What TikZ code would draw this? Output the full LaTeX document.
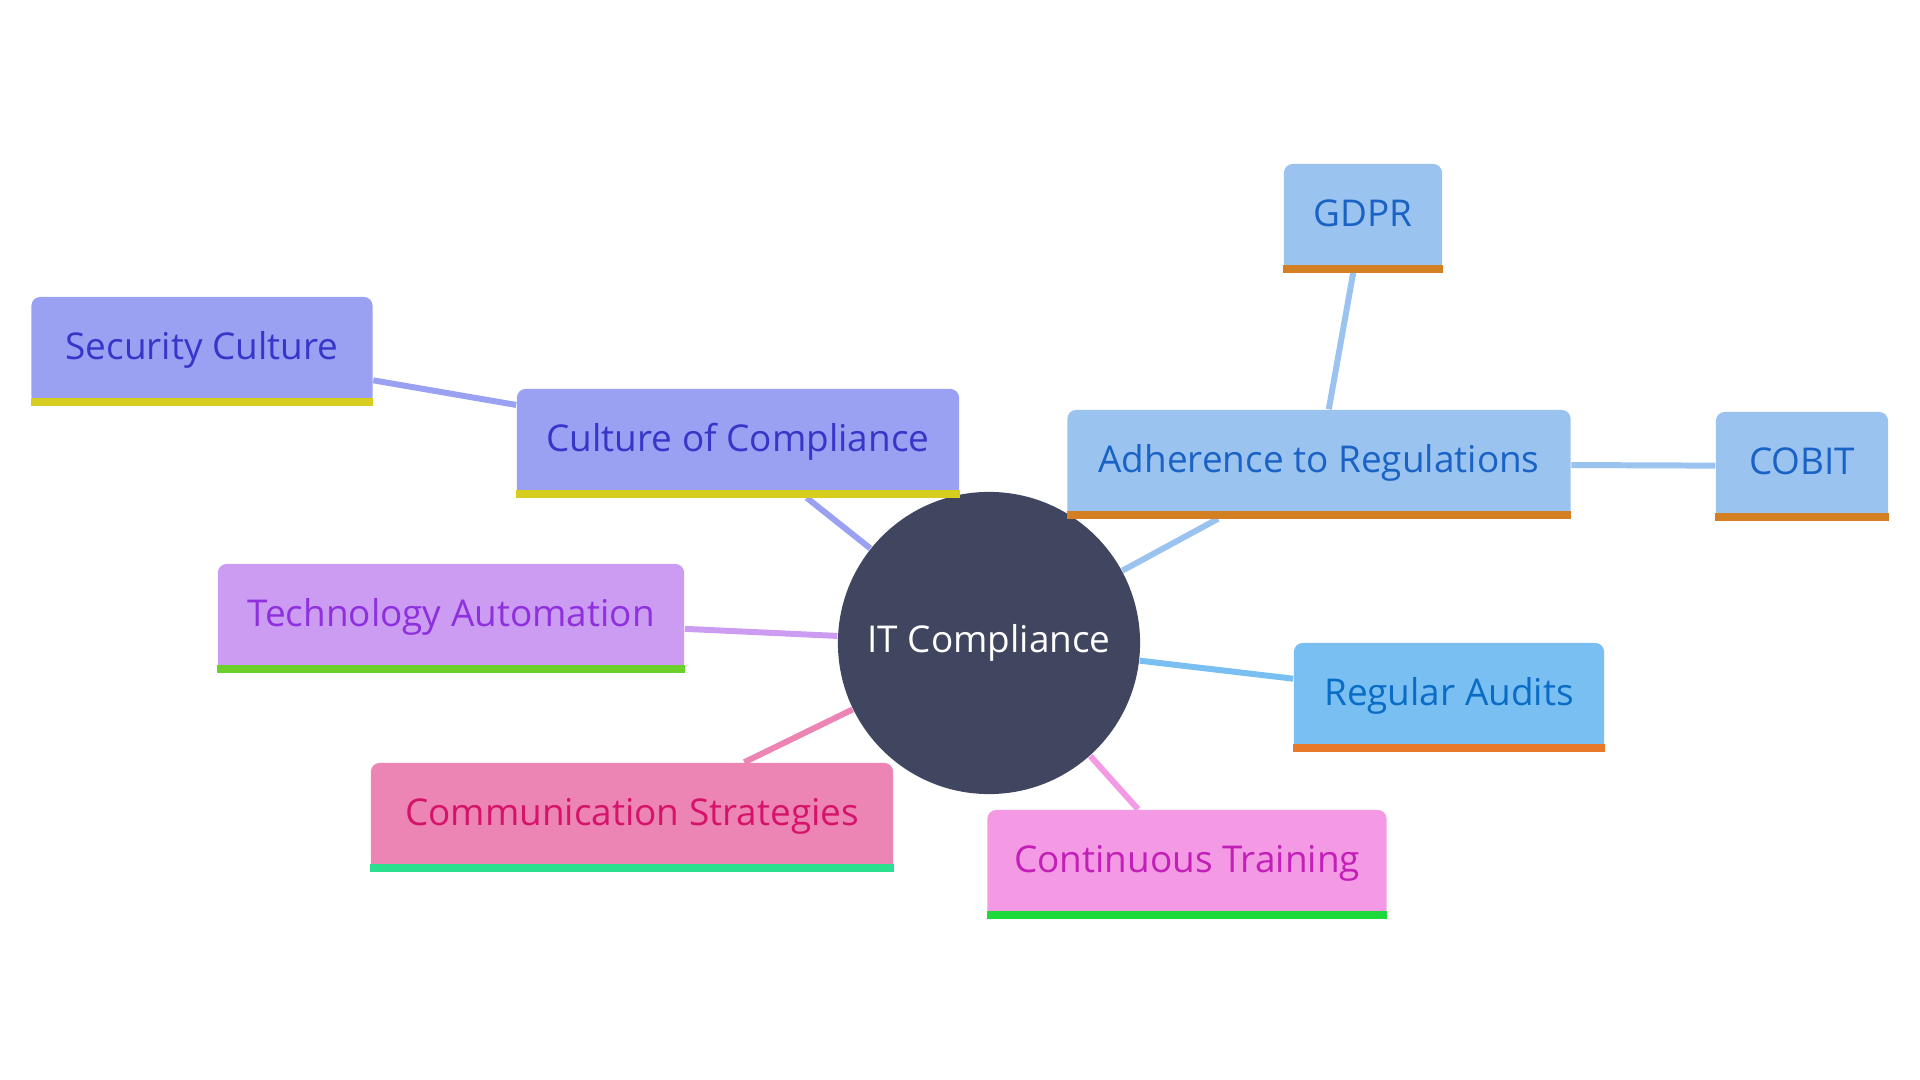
\documentclass[tikz,border=0pt]{standalone}
\usepackage{fontspec}
\setmainfont{Open Sans}
\usetikzlibrary{backgrounds}

\definecolor{hubfill}{HTML}{404560}
\definecolor{cultfill}{HTML}{9AA0F2}
\definecolor{culttext}{HTML}{3636C8}
\definecolor{cultbar}{HTML}{D6CD1F}
\definecolor{techfill}{HTML}{CC9CF2}
\definecolor{techtext}{HTML}{8E30DE}
\definecolor{techbar}{HTML}{6BD12A}
\definecolor{commfill}{HTML}{EC84B4}
\definecolor{commtext}{HTML}{D6136A}
\definecolor{commbar}{HTML}{2ADF8E}
\definecolor{trainfill}{HTML}{F499E4}
\definecolor{traintext}{HTML}{C21FB8}
\definecolor{trainbar}{HTML}{1ED93C}
\definecolor{auditfill}{HTML}{79BFF2}
\definecolor{audittext}{HTML}{0A6CC4}
\definecolor{auditbar}{HTML}{E8782A}
\definecolor{regfill}{HTML}{9AC3F0}
\definecolor{regtext}{HTML}{1A62C4}
\definecolor{regbar}{HTML}{D48022}

\begin{document}
\begin{tikzpicture}[
  x=0.01cm, y=-0.01cm,
  topic/.style={rounded corners=2.5pt, minimum height=10.8mm, inner sep=0pt,
    text height=0.74em, text depth=0.24em,
    font=\fontsize{10.5}{12}\selectfont},
  hub/.style={circle, fill=hubfill, text=white, minimum size=30.2mm, inner sep=0pt,
    font=\fontsize{10.5}{12}\selectfont},
  link/.style={line width=1.7pt}
]
\useasboundingbox (0,0) rectangle (1920,1080);

% centre
\node[hub] (itc) at (989,643) {IT Compliance};

% first level
\node[topic, fill=cultfill, text=culttext, minimum width=44.2mm] (culture) at (738,443) {Culture of Compliance};
\node[topic, fill=techfill, text=techtext, minimum width=46.6mm] (techauto) at (451,618) {Technology Automation};
\node[topic, fill=commfill, text=commtext, minimum width=52.2mm] (commstrat) at (632,817) {Communication Strategies};
\node[topic, fill=trainfill, text=traintext, minimum width=39.9mm] (training) at (1187,864) {Continuous Training};
\node[topic, fill=auditfill, text=audittext, minimum width=31mm] (audits) at (1449,697) {Regular Audits};
\node[topic, fill=regfill, text=regtext, minimum width=50.3mm] (adherence) at (1319,464) {Adherence to Regulations};

% second level
\node[topic, fill=cultfill, text=culttext, minimum width=34.1mm] (seccult) at (202,351) {Security Culture};
\node[topic, fill=regfill, text=regtext, minimum width=15.8mm] (gdpr) at (1363,218) {GDPR};
\node[topic, fill=regfill, text=regtext, minimum width=17.2mm] (cobit) at (1802,466) {COBIT};

% bottom bars
\foreach \n/\c in {culture/cultbar, seccult/cultbar, techauto/techbar, commstrat/commbar,
    training/trainbar, audits/auditbar, adherence/regbar, gdpr/regbar, cobit/regbar}
  \fill[\c] (\n.south west) rectangle ([yshift=0.8mm]\n.south east);

% connectors
\begin{scope}[on background layer]
\draw[link, cultfill] (itc) -- (culture);
\draw[link, cultfill] (culture) -- (seccult);
\draw[link, techfill] (itc) -- (techauto);
\draw[link, commfill] (itc) -- (commstrat);
\draw[link, trainfill] (itc) -- (training);
\draw[link, auditfill] (itc) -- (audits);
\draw[link, regfill] (itc) -- (adherence);
\draw[link, regfill] (adherence) -- (gdpr);
\draw[link, regfill] (adherence) -- (cobit);
\end{scope}
\end{tikzpicture}
\end{document}
